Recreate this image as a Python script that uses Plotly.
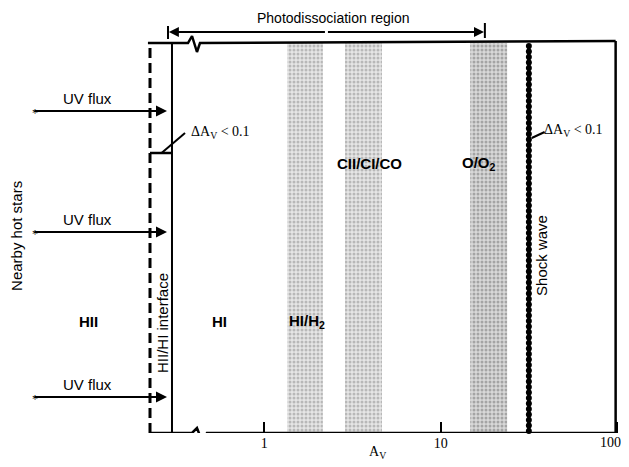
import numpy as np
import plotly.graph_objects as go

# ---------------- data (A_V values) ----------------
tick_vals = [1, 10, 100]
tick_text = ["1", "10", "100"]

band_labels = ["HI/H<sub>2</sub>", "CII/CI/CO", "O/O<sub>2</sub>"]
band_lo = [1.35, 2.87, 14.7]
band_hi = [2.15, 4.65, 23.8]
band_label_av = [1.75, 3.93, 16.5]
band_label_row = [146, 304, 304]
band_fg = ["#8a8a8a", "#8a8a8a", "#707070"]
band_bg = ["#e6e6e6", "#e6e6e6", "#d8d8d8"]

region_labels = ["HII", "HI"]
region_label_av = [0.1004, 0.5616]

shock_av = 31.6
photo_range = [0.285, 17.8]
dashed_av = 0.2254
interface_av = 0.3003
right_av = 98.0
break_av = [0.370, 0.390, 0.416, 0.4327, 0.4464, 0.474]

uv_rows = [356, 235, 70]
uv_start_av = 0.049
uv_end_av = 0.2813

SANS = "Liberation Sans, Arial"
SERIF = "Liberation Serif, Times New Roman, serif"

fig = go.Figure()

# stippled bands
for lo, hi, fg, bg in zip(band_lo, band_hi, band_fg, band_bg):
    fig.add_trace(go.Scatter(
        x=[lo, hi, hi, lo, lo], y=[34, 34, 424, 424, 34],
        mode="none", fill="toself", fillcolor=bg,
        fillpattern=dict(shape=".", fgcolor=fg, bgcolor=bg, size=4, solidity=0.45),
        hoverinfo="skip", showlegend=False))

def line(x, y, width=2, dash=None, color="black"):
    fig.add_trace(go.Scatter(x=x, y=y, mode="lines",
                             line=dict(color=color, width=width, dash=dash),
                             hoverinfo="skip", showlegend=False))

# frame (top with break, bottom with break, right edge)
line([dashed_av - 0.006, break_av[0], break_av[1], break_av[2], break_av[3], right_av],
     [424, 424, 431, 415, 424, 426], width=2.5)
line([dashed_av, break_av[1], break_av[2], break_av[4], break_av[5], right_av],
     [34, 34, 39, 25, 34, 34], width=2.5)
line([right_av, right_av], [34, 426], width=2.5)

# HII/HI interface: dashed and solid boundaries
line([dashed_av, dashed_av], [34, 424], width=3, dash="10px,5px")
line([interface_av, interface_av], [34, 424], width=2)

# shock wave (beaded thick line)
ys = np.arange(36, 425, 5.5)
fig.add_trace(go.Scatter(x=[shock_av] * len(ys), y=ys, mode="lines+markers",
                         line=dict(color="black", width=3.5),
                         marker=dict(color="black", size=6, symbol="circle"),
                         cliponaxis=False, hoverinfo="skip", showlegend=False))

# photodissociation bracket
line([photo_range[0], photo_range[0]], [428, 441], width=2)
line([photo_range[1], photo_range[1]], [429, 444], width=2)
L0, L1 = np.log10(photo_range[0]), np.log10(photo_range[1])
mid = (L0 + L1) / 2
for end in (L0 + 0.005, L1 - 0.005):
    fig.add_annotation(x=end, y=435, ax=mid, ay=435, xref="x", yref="y",
                       axref="x", ayref="y", text="", showarrow=True,
                       arrowhead=2, arrowsize=1, arrowwidth=2, arrowcolor="black")

# delta A_V leaders
line([dashed_av, interface_av], [314, 314], width=2.5)
line([0.262, 0.356], [314, 334], width=2)
line([shock_av + 1.2, 38.8], [329, 335], width=2)

# UV flux arrows
for r in uv_rows:
    fig.add_annotation(x=np.log10(uv_end_av), y=r, ax=np.log10(uv_start_av), ay=r,
                       xref="x", yref="y", axref="x", ayref="y", text="",
                       showarrow=True, arrowhead=2, arrowsize=1.1, arrowwidth=2,
                       arrowcolor="black")
    fig.add_annotation(x=np.log10(0.1), y=r + 13, text="UV flux", showarrow=False,
                       font=dict(family=SANS, size=15, color="black"))
    fig.add_annotation(x=np.log10(0.0505), y=r - 2, text="*", showarrow=False,
                       font=dict(family=SERIF, size=12, color="black"))


def text(t, av, y, size=15, family=SANS, angle=0, bold=False):
    fig.add_annotation(x=np.log10(av), y=y, text=("<b>%s</b>" % t) if bold else t,
                       showarrow=False, textangle=angle,
                       font=dict(family=family, size=size, color="black"))

text("Photodissociation region", 2.454, 449, size=14)
for lab, av in zip(region_labels, region_label_av):
    text(lab, av, 146, size=15, bold=True)
for lab, av, row in zip(band_labels, band_label_av, band_label_row):
    text(lab, av, row, size=15, bold=True)
text("HII/HI interface", 0.2636, 144, size=15, angle=-90)
text("Shock wave", 36.98, 212, size=15, angle=-90)
text("Nearby hot stars", 0.0392, 231, size=15, angle=-90)
text("ΔA<sub>V</sub> < 0.1", 0.569, 335, size=14, family=SERIF)
text("ΔA<sub>V</sub> < 0.1", 56.9, 337, size=14, family=SERIF)

# axis title
fig.add_annotation(x=np.log10(4.41), y=-0.047, xref="x", yref="paper",
                   yanchor="middle", text="A<sub>V</sub>", showarrow=False,
                   font=dict(family=SERIF, size=14, color="black"))
# last tick label, nudged left so it stays inside the window
fig.add_annotation(x=np.log10(tick_vals[-1]) - 0.04, y=-0.0212, xref="x", yref="paper",
                   yanchor="middle", text=tick_text[-1], showarrow=False,
                   font=dict(family=SERIF, size=14, color="black"))

# the page body adds an 8px offset, so the figure is 8px smaller and the
# axis ranges are set for the visible window
fig.update_layout(
    width=621, height=459,
    margin=dict(l=0, r=0, t=0, b=34),
    paper_bgcolor="white", plot_bgcolor="white",
    showlegend=False,
    xaxis=dict(type="log", range=[-1.4516, 2.067], tickvals=tick_vals,
               ticktext=tick_text[:-1] + [""],
               ticks="inside", ticklen=11, tickwidth=2, tickcolor="black",
               showgrid=False, zeroline=False, showline=False,
               tickfont=dict(family=SERIF, size=14, color="black")),
    yaxis=dict(range=[34, 459], visible=False, showgrid=False, zeroline=False),
)

fig.write_html("out.html")
